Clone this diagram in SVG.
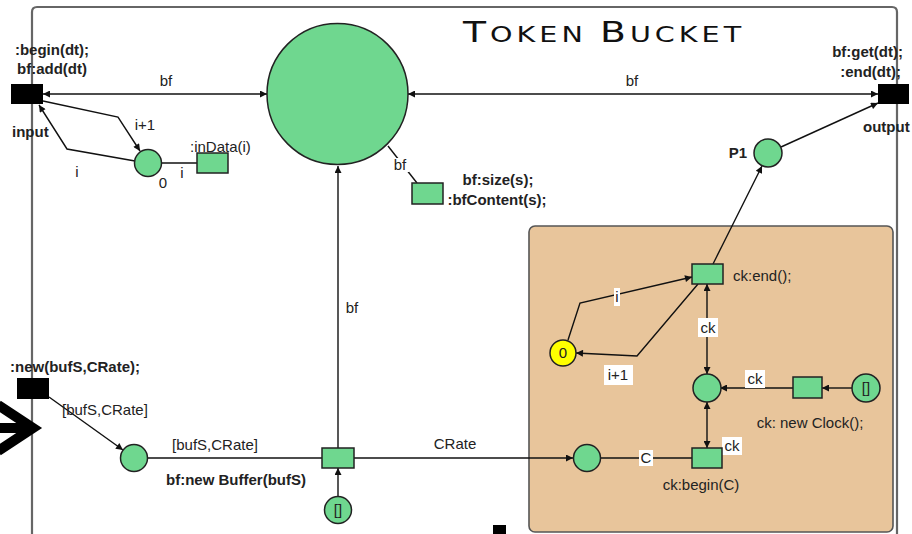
<svg xmlns="http://www.w3.org/2000/svg" width="912" height="534" viewBox="0 0 912 534">
<style>
.t{font-family:"Liberation Sans",Arial,sans-serif;font-size:15px;fill:#222}
.b{font-weight:bold}
.m{text-anchor:middle}
.e{text-anchor:end}
.pl{fill:#6fd78f;stroke:#222;stroke-width:1.5}
.tr{fill:#6fd78f;stroke:#222;stroke-width:1.5}
.bk{fill:#000}
.c{fill:none;stroke:#111;stroke-width:1.4}
.bg{fill:#fff}
</style>
<defs>
<marker id="ah" viewBox="0 0 10 10" refX="10" refY="5" markerWidth="9" markerHeight="7" markerUnits="userSpaceOnUse" orient="auto-start-reverse"><path d="M0,0 L10,5 L0,10 z" fill="#111"/></marker>
</defs>
<rect width="912" height="534" fill="#fff"/>
<!-- frame -->
<path d="M32,560 V12 Q32,7 37,7 H892 Q897,7 897,12 V560" fill="none" stroke="#666" stroke-width="2.2"/>
<g id="clockbox"><rect x="529" y="226" width="364" height="306" rx="6" fill="#e8c59b" stroke="#555" stroke-width="1.6"/></g>
<text id="title" transform="translate(463,42) scale(1.3,1)" x="0" y="0" textLength="214" lengthAdjust="spacing" style="font-family:'DejaVu Sans',sans-serif;fill:#111"><tspan font-size="29">T</tspan><tspan font-size="22">OKEN </tspan><tspan font-size="29">B</tspan><tspan font-size="22">UCKET</tspan></text>
<!-- chevron -->
<g id="chevron"><polyline points="-2,405 33,428 -2,451" fill="none" stroke="#000" stroke-width="10" stroke-miterlimit="10"/><rect x="0" y="423" width="26" height="10" fill="#000"/></g>
<rect x="493" y="525" width="13" height="10" fill="#000"/>

<g id="connectors">
<line class="c" x1="43" y1="94" x2="267" y2="94" marker-start="url(#ah)" marker-end="url(#ah)"/>
<line class="c" x1="408" y1="94" x2="878" y2="94" marker-start="url(#ah)" marker-end="url(#ah)"/>
<path class="c" d="M43,101 L118,117 L140,151" marker-end="url(#ah)"/>
<path class="c" d="M135,161 L67,149 L39,105" marker-end="url(#ah)"/>
<line class="c" x1="161" y1="163" x2="197" y2="163"/>
<line class="c" x1="388" y1="146" x2="417" y2="183"/>
<line class="c" x1="338" y1="448" x2="338" y2="166" marker-end="url(#ah)"/>
<line class="c" x1="338" y1="496" x2="338" y2="468" marker-end="url(#ah)"/>
<line class="c" x1="49" y1="397" x2="123" y2="450" marker-end="url(#ah)"/>
<line class="c" x1="147" y1="458" x2="322" y2="458"/>
<line class="c" x1="354" y1="458" x2="573" y2="458" marker-end="url(#ah)"/>
<line class="c" x1="600" y1="458" x2="692" y2="458"/>
<line class="c" x1="707" y1="448" x2="707" y2="402" marker-start="url(#ah)" marker-end="url(#ah)"/>
<line class="c" x1="707" y1="374" x2="707" y2="284" marker-start="url(#ah)" marker-end="url(#ah)"/>
<line class="c" x1="793" y1="388" x2="720" y2="388" marker-end="url(#ah)"/>
<line class="c" x1="852" y1="388" x2="822" y2="388" marker-end="url(#ah)"/>
<path class="c" d="M568,340 L580,303 L692,277" marker-end="url(#ah)"/>
<path class="c" d="M698,284 L637,356 L576,353" marker-end="url(#ah)"/>
<line class="c" x1="713" y1="264" x2="762" y2="166" marker-end="url(#ah)"/>
<line class="c" x1="781" y1="147" x2="878" y2="103" marker-end="url(#ah)"/>
<!-- labels -->
<text class="t m" x="166" y="86">bf</text>
<text class="t m" x="632" y="86">bf</text>
<text class="t m" x="145" y="130">i+1</text>
<text class="t m" x="77" y="177">i</text>
<text class="t m" x="182" y="178">i</text>
<rect class="bg" x="392" y="158" width="17" height="14"/>
<text class="t m" x="400" y="170">bf</text>
<text class="t m" x="352" y="313">bf</text>
<text class="t" x="62" y="415">[bufS,CRate]</text>
<text class="t m" x="215" y="450">[bufS,CRate]</text>
<text class="t m" x="455" y="449">CRate</text>
<rect class="bg" x="639" y="450" width="14" height="16"/>
<text class="t m" x="646" y="463">C</text>
<rect class="bg" x="698" y="318" width="20" height="19"/>
<text class="t m" x="708" y="333">ck</text>
<rect class="bg" x="745" y="370" width="20" height="18"/>
<text class="t m" x="755" y="384">ck</text>
<rect class="bg" x="722" y="437" width="20" height="18"/>
<text class="t m" x="732" y="451">ck</text>
<rect class="bg" x="614" y="288" width="6" height="18"/>
<text class="t m" x="617" y="302">i</text>
<rect class="bg" x="604" y="365" width="29" height="20"/>
<text class="t m" x="618" y="380">i+1</text>
</g>

<g id="input"><rect class="bk" x="11" y="84" width="32" height="20"/>
<text class="t b m" x="52" y="55">:begin(dt);</text><text class="t b m" x="52" y="74">bf:add(dt)</text><text class="t b" x="12" y="137">input</text></g>
<g id="output"><rect class="bk" x="878" y="84" width="31" height="20"/>
<text class="t b e" x="903" y="57">bf:get(dt);</text><text class="t b e" x="901" y="77">:end(dt);</text><text class="t b" x="863" y="132">output</text></g>
<g id="bucket"><circle class="pl" cx="337.5" cy="94" r="70.5"/></g>
<g id="counter"><circle class="pl" cx="148" cy="163" r="13.5"/><text class="t m" x="163" y="188">0</text></g>
<g id="inData"><rect class="tr" x="197" y="153" width="31" height="20"/><text class="t" x="190" y="152">:inData(i)</text></g>
<g id="bfsize"><rect class="tr" x="412" y="183" width="31" height="21"/><text class="t b m" x="498" y="185">bf:size(s);</text><text class="t b m" x="497" y="205">:bfContent(s);</text></g>
<g id="new"><rect class="bk" x="17" y="378" width="32" height="21"/><text class="t b" x="10" y="372">:new(bufS,CRate);</text></g>
<g id="bufS"><circle class="pl" cx="134" cy="458" r="13.5"/></g>
<g id="newBuffer"><rect class="tr" x="322" y="448" width="32" height="20"/><text class="t b m" x="236" y="485">bf:new Buffer(bufS)</text></g>
<g id="bufInit"><circle class="pl" cx="338" cy="510" r="13.5"/><text class="t m" x="338" y="515">[]</text></g>
<g id="cRate"><circle class="pl" cx="587" cy="458" r="13.5"/></g>
<g id="ckBegin"><rect class="tr" x="692" y="448" width="30" height="20"/><text class="t m" x="701" y="490">ck:begin(C)</text></g>
<g id="clock"><circle class="pl" cx="707" cy="388" r="14"/></g>
<g id="newClock"><rect class="tr" x="793" y="377" width="29" height="21"/><text class="t m" x="810" y="428">ck: new Clock();</text></g>
<g id="clockInit"><circle class="pl" cx="866" cy="388" r="14"/><text class="t m" x="866" y="393">[]</text></g>
<g id="ckEnd"><rect class="tr" x="692" y="264" width="31" height="20"/><text class="t" x="733" y="281">ck:end();</text></g>
<g id="loopCount"><circle cx="563" cy="353" r="13" fill="#ffff00" stroke="#222" stroke-width="1.5"/><text class="t m" x="563" y="358">0</text></g>
<g id="P1"><circle class="pl" cx="768" cy="153" r="14"/><text class="t b m" x="738" y="158">P1</text></g>
</svg>
